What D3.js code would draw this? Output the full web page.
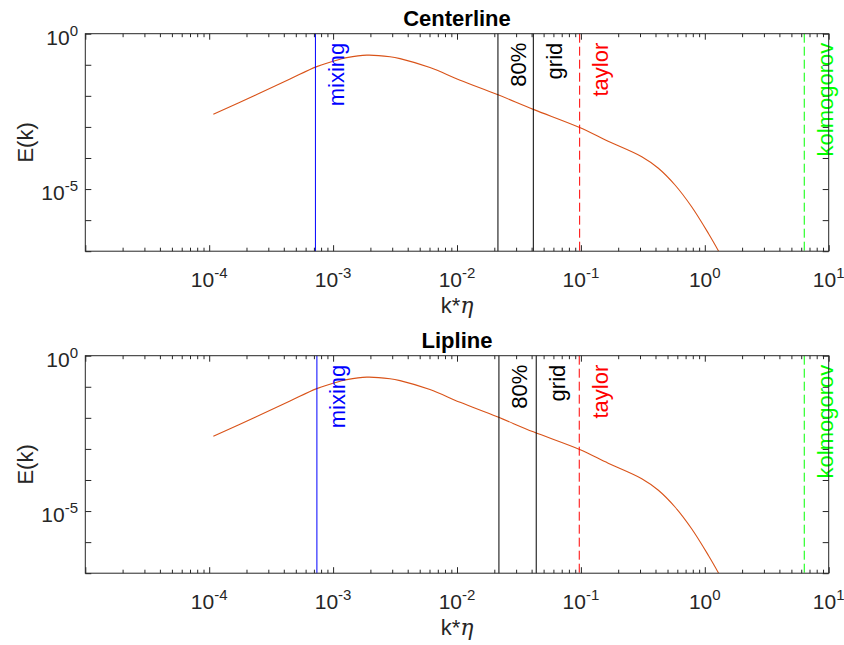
<!DOCTYPE html>
<meta charset="utf-8">
<title>Energy spectra</title>
<style>
  body { margin: 0; background: #fff; }
  svg { font-family: "Liberation Sans", Arial, sans-serif; }
  .axis line { stroke: #262626; }
  .axis path { display: none; }
  .box { fill: none; stroke: #262626; stroke-width: 1; }
  .ticklabel { fill: #262626; font-size: 21px; }
  .label { fill: #262626; font-size: 22px; }
  .title { fill: #000; font-size: 22px; font-weight: bold; }
  .spectrum { fill: none; stroke: #D95319; stroke-width: 1.1; }
</style>
<svg width="844" height="645"></svg>
<script src="https://d3js.org/d3.v7.min.js"></script>
<script>

    // k*eta samples
    var kEta = [1.08e-4, 2.42e-4, 4.49e-4, 7.38e-4, 1.14e-3, 1.29e-3, 1.87e-3, 2.88e-3, 3.47e-3,
        6.05e-3, 1.06e-2, 2.09e-2, 4.13e-2, 9.66e-2, 0.166, 0.310, 0.422, 0.575, 0.783, 1.07, 1.29];
    var centerlineE = [2.57e-3, 1.10e-2, 3.47e-2, 8.71e-2, 0.151, 0.170, 0.204, 0.182, 0.158,
        8.13e-2, 3.16e-2, 1.12e-2, 3.67e-3, 9.77e-4, 3.47e-4, 1.10e-4, 4.68e-5, 1.35e-5, 2.69e-6, 3.72e-7, 1.02e-7];
    var liplineE = [2.57e-3, 1.10e-2, 3.47e-2, 8.71e-2, 0.151, 0.170, 0.204, 0.182, 0.158,
        8.13e-2, 3.16e-2, 1.10e-2, 3.55e-3, 9.77e-4, 3.47e-4, 1.10e-4, 4.68e-5, 1.35e-5, 2.69e-6, 3.72e-7, 1.02e-7];

    // vertical reference scales
    var markNames = ["mixing", "80%", "grid", "taylor", "kolmogorov"];
    var centerlineMarks = [7.2e-4, 0.0214, 0.0413, 0.0977, 6.35];
    var liplineMarks = [7.4e-4, 0.0218, 0.0436, 0.0970, 6.35];

    var xTicks = [1e-4, 1e-3, 1e-2, 1e-1, 1e0, 1e1];
    var xTickExp = ["-4", "-3", "-2", "-1", "0", "1"];
    var yTicks = [1e0, 1e-5];
    var yTickExp = ["0", "-5"];

    var markStyle = {
        "mixing":     {color: "#0000ff", dash: null},
        "80%":        {color: "#000000", dash: null},
        "grid":       {color: "#000000", dash: null},
        "taylor":     {color: "#ff0000", dash: "9,4"},
        "kolmogorov": {color: "#00ff00", dash: "9,4"}
    };

    var svg = d3.select("svg"),
        left = 85.3,
        right = 828.7,
        panelH = 217.5;

    var panels = [
        {title: "Centerline", top: 33.7, E: centerlineE, marks: centerlineMarks},
        {title: "Lipline", top: 355.7, E: liplineE, marks: liplineMarks}
    ];

    var x = d3.scaleLog().domain([1e-5, 1e1]).range([left, right]);
    var isDecade = function(v) { return Math.abs(Math.log10(v) - Math.round(Math.log10(v))) < 1e-9; };
    var xMajor = x.ticks().filter(isDecade),
        xMinor = x.ticks().filter(function(v) { return !isDecade(v); });

    panels.forEach(function(p, pi) {
        var bottom = p.top + panelH;
        var y = d3.scaleLog().domain([1e-7, 1e0]).range([bottom, p.top]);
        var yMajor = y.ticks().filter(isDecade);

        var g = svg.append("g");
        var clipId = "clip" + pi;
        g.append("clipPath").attr("id", clipId)
            .append("rect")
            .attr("x", left).attr("y", p.top)
            .attr("width", right - left).attr("height", panelH);

        // ticks pointing inward on all four sides
        g.append("g").attr("class", "axis")
            .attr("transform", "translate(0," + bottom + ")")
            .call(d3.axisBottom(x).tickValues(xMajor).tickSize(-6).tickFormat(""));
        g.append("g").attr("class", "axis")
            .attr("transform", "translate(0," + bottom + ")")
            .call(d3.axisBottom(x).tickValues(xMinor).tickSize(-3.5).tickFormat(""));
        g.append("g").attr("class", "axis")
            .attr("transform", "translate(0," + p.top + ")")
            .call(d3.axisTop(x).tickValues(xMajor).tickSize(-6).tickFormat(""));
        g.append("g").attr("class", "axis")
            .attr("transform", "translate(0," + p.top + ")")
            .call(d3.axisTop(x).tickValues(xMinor).tickSize(-3.5).tickFormat(""));
        g.append("g").attr("class", "axis")
            .attr("transform", "translate(" + left + ",0)")
            .call(d3.axisLeft(y).tickValues(yMajor).tickSize(-6).tickFormat(""));
        g.append("g").attr("class", "axis")
            .attr("transform", "translate(" + right + ",0)")
            .call(d3.axisRight(y).tickValues(yMajor).tickSize(-6).tickFormat(""));

        // curve
        var line = d3.line()
            .x(function(d, i) { return x(kEta[i]); })
            .y(function(d) { return y(d); })
            .curve(d3.curveCatmullRom.alpha(0.5));
        g.append("path")
            .attr("class", "spectrum")
            .attr("clip-path", "url(#" + clipId + ")")
            .attr("d", line(p.E));

        // vertical reference lines + labels
        p.marks.forEach(function(k, i) {
            var name = markNames[i], st = markStyle[name], xv = x(k);
            g.append("line")
                .attr("x1", xv).attr("x2", xv)
                .attr("y1", p.top).attr("y2", bottom)
                .attr("stroke", st.color)
                .attr("stroke-width", 1)
                .attr("stroke-dasharray", st.dash);
            g.append("text")
                .attr("transform", "translate(" + (xv + 21) + "," + (p.top + 9) + ") rotate(-90)")
                .attr("text-anchor", "end")
                .attr("dominant-baseline", "central")
                .attr("fill", st.color)
                .style("font-size", "22px")
                .text(name);
        });

        g.append("rect").attr("class", "box")
            .attr("x", left).attr("y", p.top)
            .attr("width", right - left).attr("height", panelH);

        // tick labels 10^n
        xTicks.forEach(function(t, i) {
            var tx = g.append("text").attr("class", "ticklabel")
                .attr("x", x(t)).attr("y", bottom + 36)
                .attr("text-anchor", "middle");
            tx.append("tspan").text("10");
            tx.append("tspan").attr("dy", -9).style("font-size", "15px").text(xTickExp[i]);
        });
        yTicks.forEach(function(t, i) {
            var ty = g.append("text").attr("class", "ticklabel")
                .attr("x", 78).attr("y", y(t) + 11)
                .attr("text-anchor", "end");
            ty.append("tspan").text("10");
            ty.append("tspan").attr("dy", -9).style("font-size", "15px").text(yTickExp[i]);
        });

        g.append("text").attr("class", "title")
            .attr("x", (left + right) / 2).attr("y", p.top - 8)
            .attr("text-anchor", "middle")
            .text(p.title);

        var xl = g.append("text").attr("class", "label")
            .attr("x", (left + right) / 2).attr("y", bottom + 62)
            .attr("text-anchor", "middle");
        xl.append("tspan").text("k*");
        xl.append("tspan").style("font-family", "'DejaVu Serif', serif").style("font-style", "italic").text("η");

        g.append("text").attr("class", "label")
            .attr("transform", "translate(33," + (p.top + panelH / 2) + ") rotate(-90)")
            .attr("text-anchor", "middle")
            .text("E(k)");
    });

</script>
